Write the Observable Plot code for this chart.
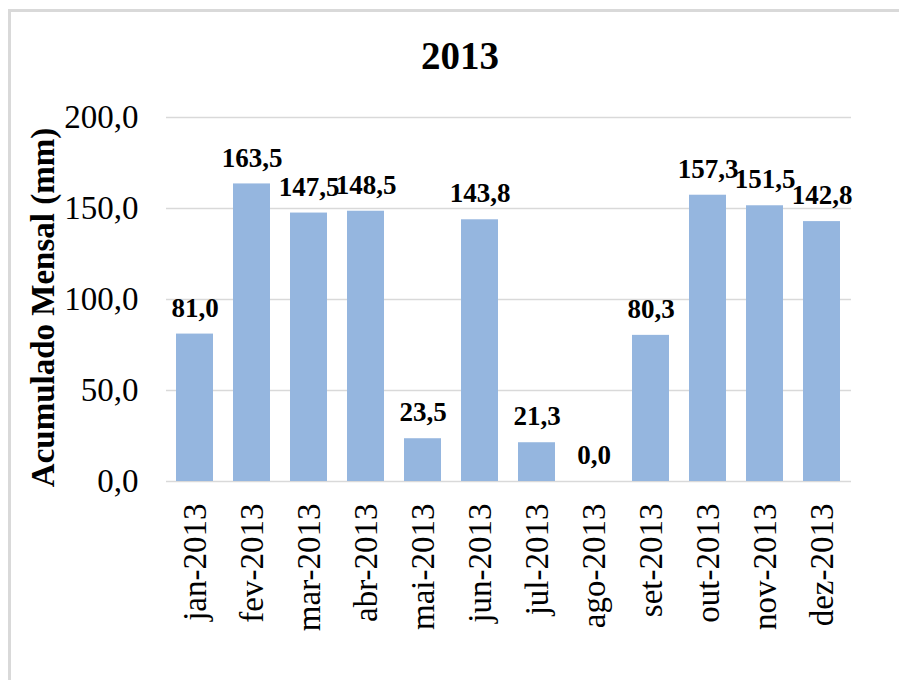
<!DOCTYPE html>
<html>
<head>
<meta charset="utf-8">
<script src="https://cdn.jsdelivr.net/npm/d3@7"></script>
<script src="https://cdn.jsdelivr.net/npm/@observablehq/plot@0.6"></script>
<style>
  html, body { margin: 0; padding: 0; background: #fff; }
  #wrap { position: relative; width: 899px; height: 680px; overflow: hidden; background: #fff; }
  #frame { position: absolute; left: 8px; top: 9px; width: 1000px; height: 1000px; border: 3px solid #d9d9d9; box-sizing: border-box; }
  #title { position: absolute; left: 0; top: 33px; width: 920px; text-align: center; font-family: "Liberation Serif", serif; font-weight: bold; font-size: 39px; line-height: 46px; color: #000; }
  #chart { position: absolute; left: 0; top: 0; }
</style>
</head>
<body>
<div id="wrap">
  <div id="frame"></div>
  <div id="title">2013</div>
  <div id="chart"></div>
</div>
<script>
const months = ["jan-2013","fev-2013","mar-2013","abr-2013","mai-2013","jun-2013","jul-2013","ago-2013","set-2013","out-2013","nov-2013","dez-2013"];
const values = [81.0, 163.5, 147.5, 148.5, 23.5, 143.8, 21.3, 0.0, 80.3, 157.3, 151.5, 142.8];
const yTicks = [0, 50, 100, 150, 200];
const yLabel = "Acumulado Mensal (mm)";

const data = months.map((m, i) => ({month: m, value: values[i]}));
const fmt = v => v.toFixed(1).replace(".", ",");

const chart = Plot.plot({
  width: 899,
  height: 680,
  marginTop: 117,
  marginBottom: 199,
  marginLeft: 166,
  marginRight: 48,
  style: {fontFamily: "Liberation Serif, serif", color: "#000", background: "transparent", overflow: "visible"},
  x: {domain: months, paddingInner: 0.35, paddingOuter: 0.18},
  y: {domain: [0, 200]},
  marks: [
    Plot.ruleY(yTicks, {stroke: "#d9d9d9", strokeWidth: 1.5}),
    Plot.barY(data, {x: "month", y: "value", fill: "#95b6df"}),
    Plot.text(data, {x: "month", y: "value", text: d => fmt(d.value), dy: -26, fontWeight: "bold", fontSize: 27, fill: "#000"}),
    Plot.axisY({ticks: yTicks, tickSize: 0, tickPadding: 28, tickFormat: fmt, fontSize: 33, label: null}),
    Plot.axisX({tickSize: 0, tickPadding: 22, tickRotate: -90, fontSize: 33, label: null}),
    Plot.text([yLabel], {frameAnchor: "left", textAnchor: "middle", rotate: -90, dx: -123, dy: 8, fontWeight: "bold", fontSize: 33, fill: "#000"})
  ]
});
document.getElementById("chart").appendChild(chart);
</script>
</body>
</html>
